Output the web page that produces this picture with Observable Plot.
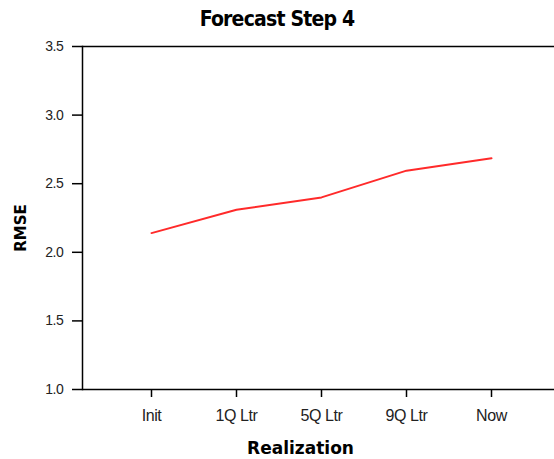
<!DOCTYPE html>
<html><head><meta charset="utf-8">
<script src="https://cdn.jsdelivr.net/npm/d3@7"></script>
<script src="https://cdn.jsdelivr.net/npm/@observablehq/plot@0.6"></script>
<style>
body{margin:0;background:#fff;}
#title{height:36px;line-height:38px;text-align:center;font-family:"DejaVu Sans",sans-serif;font-stretch:condensed;font-weight:bold;font-size:21px;color:#000;width:554px;letter-spacing:-0.8px;}
svg g[aria-label="xlabel"], svg g[aria-label="ylabel"]{font-stretch:condensed;letter-spacing:-0.6px;}
svg g[aria-label="x-axis tick label"]{font-size:16px;letter-spacing:-0.4px;}
svg g[aria-label="y-axis tick label"]{font-size:14px;letter-spacing:-0.4px;}
</style></head>
<body>
<div id="title">Forecast Step 4</div>
<div id="chart"></div>
<script>
const categories = ["Init", "1Q Ltr", "5Q Ltr", "9Q Ltr", "Now"];
const rmse = [2.14, 2.31, 2.40, 2.595, 2.685];
const yTicks = [1.0, 1.5, 2.0, 2.5, 3.0, 3.5];
const xTitle = "Realization";
const yTitle = "RMSE";

const data = categories.map((c, i) => ({cat: c, v: rmse[i]}));

const chart = Plot.plot({
  width: 554,
  height: 423,
  marginTop: 10,
  marginBottom: 70,
  marginLeft: 82,
  marginRight: 0,
  style: {fontFamily: '"Liberation Sans",Arial,sans-serif', fontSize: "13px", color: "#000"},
  x: {type: "point", domain: categories, range: [149, 492], padding: 0},
  y: {domain: [1.0, 3.5]},
  marks: [
    Plot.axisY({ticks: yTicks, tickFormat: d3.format(".1f"), tickSize: 10, tickPadding: 9, strokeWidth: 1.5, label: null, fill: "#222"}),
    Plot.axisX({tickSize: 8, tickPadding: 12, strokeWidth: 1.5, label: null, fill: "#222"}),
    Plot.text([xTitle], {text: d => d, frameAnchor: "bottom", dx: -18, dy: 64, fontFamily: "DejaVu Sans", fontWeight: "bold", fontSize: 17, fill: "#000", ariaLabel: "xlabel"}),
    Plot.text([yTitle], {text: d => d, frameAnchor: "left", textAnchor: "middle", rotate: -90, dx: -61, dy: 10, fontFamily: "DejaVu Sans", fontWeight: "bold", fontSize: 15, fill: "#000", ariaLabel: "ylabel"}),
    Plot.ruleY([1.0, 3.5], {stroke: "#000", strokeWidth: 1.5}),
    Plot.frame({anchor: "left", stroke: "#000", strokeWidth: 1.5}),
    Plot.line(data, {x: "cat", y: "v", stroke: "#ff2a2a", strokeWidth: 2})
  ]
});
document.getElementById("chart").appendChild(chart);
</script>
</body></html>
